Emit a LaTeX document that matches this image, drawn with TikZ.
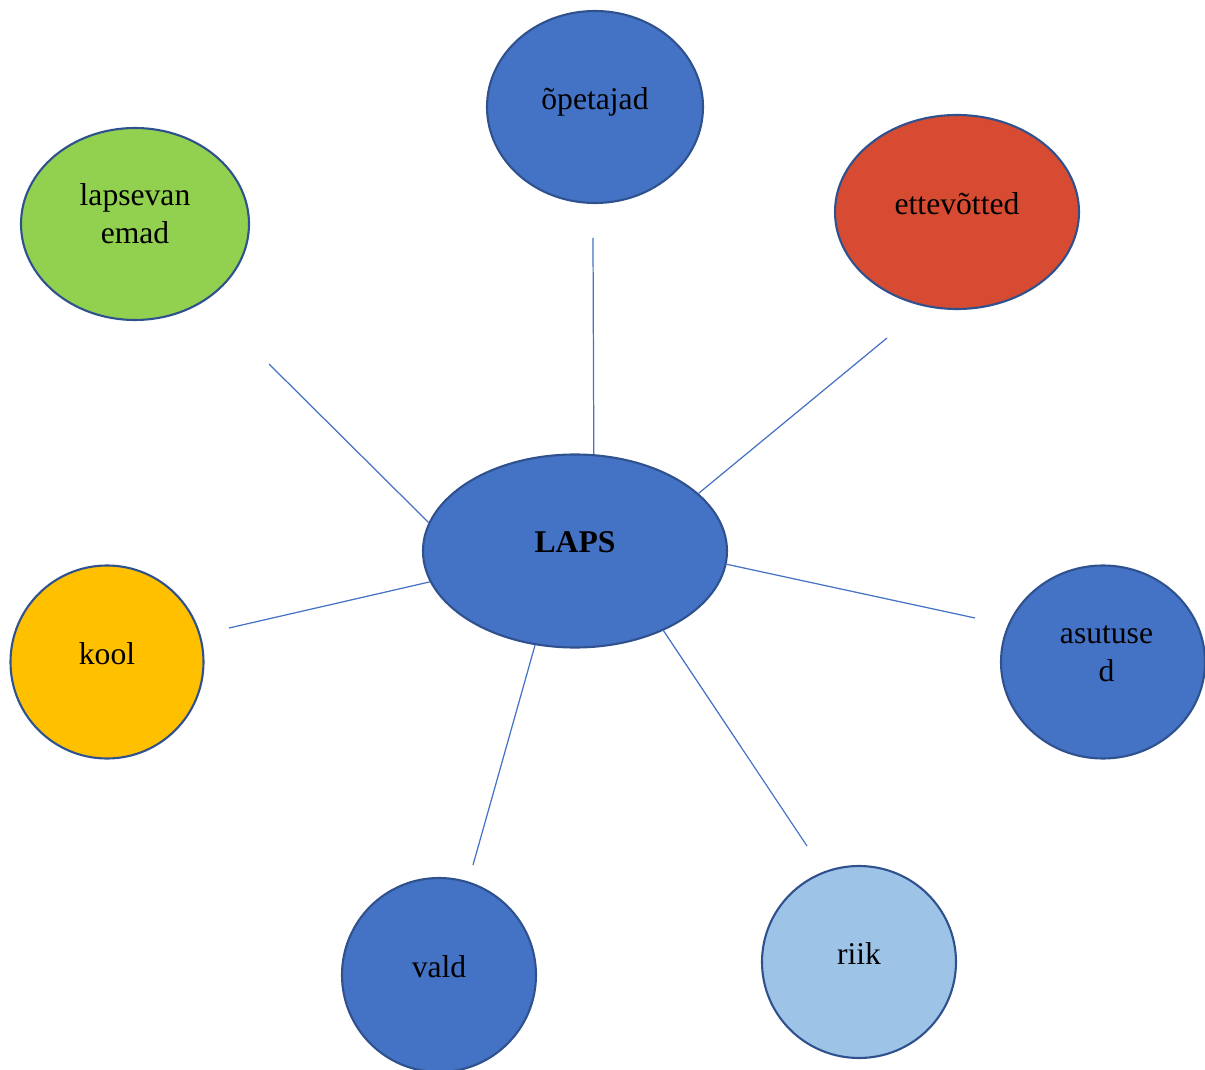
\documentclass[tikz,border=0pt]{standalone}
\usepackage{fontspec}
\setmainfont{Liberation Serif}
\usetikzlibrary{shapes.geometric}
\definecolor{wblue}{HTML}{4472C4}
\definecolor{wline}{HTML}{2F528F}
\definecolor{wgreen}{HTML}{92D050}
\definecolor{wred}{HTML}{D64B31}
\definecolor{worange}{HTML}{FFC000}
\definecolor{wlight}{HTML}{9DC3E6}
\newcommand{\lift}[2][10pt]{\raisebox{#1}{#2}}

\begin{document}
\begin{tikzpicture}[
  bubble/.style={ellipse,draw=wline,line width=1.2pt,inner sep=0pt,font=\fontsize{18}{22}\selectfont},
  spoke/.style={wblue,line width=0.7pt}
]
\useasboundingbox (0,0) rectangle (24.1,-21.4);

% middle
\node[bubble,fill=wblue,minimum width=6.08cm,minimum height=3.86cm,font=\fontsize{18}{22}\selectfont\bfseries] (laps) at (11.5,-11.02) {\lift{LAPS}};

% outer bubbles
\node[bubble,fill=wblue,minimum width=4.32cm,minimum height=3.84cm] (opetajad) at (11.9,-2.14) {\lift{õpetajad}};
\node[bubble,fill=wred,minimum width=4.88cm,minimum height=3.88cm] (ettevotted) at (19.14,-4.24) {\lift{ettevõtted}};
\node[bubble,fill=wgreen,minimum width=4.56cm,minimum height=3.84cm] (lapsevanemad) at (2.7,-4.48) {\lift[26pt]{\begin{tabular}{@{}c@{}}lapsevan\\emad\end{tabular}}};
\node[bubble,fill=worange,minimum size=3.86cm] (kool) at (2.14,-13.24) {\lift{kool}};
\node[bubble,fill=wblue,minimum width=4.08cm,minimum height=3.86cm] (asutused) at (22.06,-13.24) {\lift[26pt]{\hspace*{4pt}\begin{tabular}{@{}c@{}}asutuse\\d\end{tabular}}};
\node[bubble,fill=wblue,minimum size=3.88cm] (vald) at (8.78,-19.5) {\lift{vald}};
\node[bubble,fill=wlight,minimum width=3.88cm,minimum height=3.84cm] (riik) at (17.18,-19.24) {\lift{riik}};

% loose ends of the spokes
\coordinate (e-opetajad) at (11.86,-4.76);
\coordinate (e-ettevotted) at (17.74,-6.76);
\coordinate (e-lapsevanemad) at (5.38,-7.28);
\coordinate (e-kool) at (4.58,-12.56);
\coordinate (e-asutused) at (19.5,-12.36);
\coordinate (e-vald) at (9.46,-17.3);
\coordinate (e-riik) at (16.14,-16.92);

\draw[spoke] (laps.79.3) -- (e-opetajad);
\draw[spoke] (laps.25.8) -- (e-ettevotted);
\draw[spoke] (laps.169.2) -- (e-lapsevanemad);
\draw[spoke] (laps.192.2) -- (e-kool);
\draw[spoke] (laps.-5.6) -- (e-asutused);
\draw[spoke] (laps.247.6) -- (e-vald);
\draw[spoke] (laps.-42.6) -- (e-riik);
\end{tikzpicture}
\end{document}
